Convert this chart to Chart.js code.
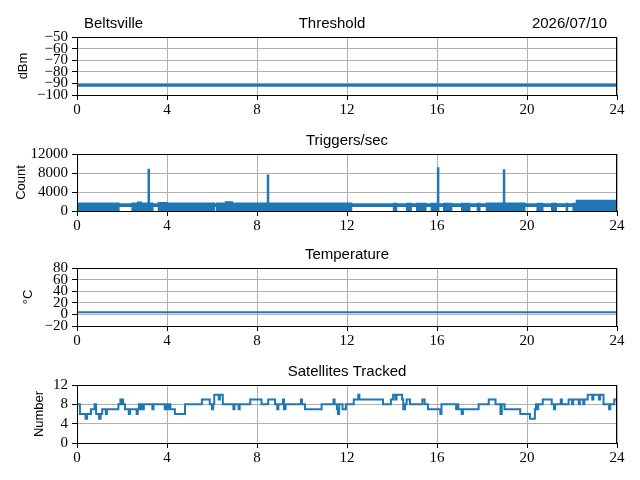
<!DOCTYPE html>
<html lang="en">
<head>
  <meta charset="UTF-8">
  <title>Beltsville station status</title>
  <script src="https://cdn.jsdelivr.net/npm/chart.js"></script>
  <style>
    body { margin: 0; background: white; }
    #fig { position: relative; width: 640px; height: 480px; background: white; }
    #fig canvas { position: absolute; left: 0; }
  </style>
</head>
<body>
  <div id="fig">
    <canvas id="c-threshold"></canvas>
    <canvas id="c-triggers"></canvas>
    <canvas id="c-temp"></canvas>
    <canvas id="c-sats"></canvas>
  </div>

  <script>
    // --- data (hours of the day, UTC) ---
    const hourTicks = [0, 4, 8, 12, 16, 20, 24];

    const threshTicks = [-100, -90, -80, -70, -60, -50];
    const threshHours = [0, 24];
    const threshDbm = [-91.5, -91.5];

    const trigTicks = [0, 4000, 8000, 12000];
    // noisy band: each segment starts at trigHours[i], spans trigLow..trigHigh
    const trigHours = [0, 1.86, 2.45, 2.7, 2.85, 3.37, 3.62, 4.0, 6.1, 6.2, 6.6, 6.9,
      12.2, 14.07, 14.2, 14.65, 14.85, 15.1, 15.5, 15.75, 16.06, 16.3, 16.65, 17.1,
      17.45, 17.8, 17.9, 18.2, 19.9, 20.45, 20.7, 21.1, 21.3, 21.75, 21.8, 22.05, 22.2];
    const trigLow = [0, 1000, 0, 0, 0, 1000, 0, 0, 1000, 0, 0, 0,
      1000, 0, 1000, 0, 1000, 0, 1000, 0, 1000, 0, 1000, 0,
      1000, 0, 1000, 0, 1000, 0, 1000, 0, 1000, 0, 1000, 0, 0];
    const trigHigh = [1650, 1500, 1650, 1850, 1650, 1500, 1750, 1650, 1500, 1650, 1900, 1650,
      1500, 1600, 1500, 1600, 1500, 1600, 1500, 1600, 1500, 1600, 1500, 1600,
      1500, 1600, 1500, 1650, 1500, 1600, 1500, 1600, 1500, 1600, 1500, 1600, 2200];
    const spikeHours = [3.19, 8.49, 16.05, 18.98];
    const spikePeaks = [8900, 7700, 9200, 8800];

    const tempTicks = [-20, 0, 20, 40, 60, 80];
    const tempHours = [0, 24];
    const tempC = [3.5, 3.5];

    const satTicks = [0, 4, 8, 12];
    // step series: value satCount[i] holds from satHours[i] to the next entry
    const satHours = [0, 0.13, 0.38, 0.45, 0.62, 0.78, 0.85, 0.98, 1.05, 1.12, 1.28, 1.33,
      1.84, 1.93, 1.97, 2.0, 2.05, 2.13, 2.3, 2.36, 2.65, 2.7, 2.75, 2.8, 2.85, 2.92, 2.97,
      3.35, 3.4, 3.9, 3.95, 4.02, 4.07, 4.15, 4.35, 4.8, 5.55, 5.9, 6.0, 6.05, 6.1, 6.3, 6.35,
      6.48, 6.95, 7.0, 7.18, 7.23, 7.7, 8.2, 8.5, 8.8, 8.9, 8.95, 9.15, 9.2, 9.27, 9.95, 10.0,
      10.13, 10.87, 11.4, 11.45, 11.55, 11.6, 11.65, 11.8, 11.95, 12.13, 12.3, 12.5, 12.55,
      13.6, 13.95, 14.05, 14.15, 14.2, 14.45, 14.5, 14.58, 14.65, 14.8, 15.35, 15.45, 15.6,
      16.15, 16.2, 16.85, 16.9, 16.95, 17.1, 17.15, 17.85, 18.3, 18.6, 18.82, 18.88, 19.0,
      19.7, 20.13, 20.35, 20.4, 20.45, 20.5, 20.7, 21.1, 21.2, 21.25, 21.5, 21.55, 21.85,
      22.0, 22.05, 22.3, 22.35, 22.5, 22.55, 22.7, 22.9, 22.95, 23.2, 23.25, 23.4, 23.65,
      23.7, 23.88];
    const satCount = [8, 6, 5, 6, 7, 8, 6, 5, 6, 7, 6, 7,
      8, 9, 8, 9, 8, 7, 6, 7, 6, 7, 8, 7, 8, 7, 8,
      7, 8, 7, 8, 7, 8, 7, 6, 8, 9, 8, 7, 8, 10, 9, 10,
      8, 7, 8, 7, 8, 9, 8, 9, 8, 7, 8, 9, 7, 8, 9, 8,
      7, 8, 9, 8, 7, 6, 8, 7, 8, 8, 9, 10, 9,
      8, 9, 10, 9, 10, 9, 7, 8, 9, 8, 9, 8, 7,
      6, 8, 7, 8, 7, 6, 7, 8, 9, 8, 6, 8, 7,
      6, 5, 7, 8, 7, 8, 9, 8, 7, 8, 9, 8, 9,
      8, 9, 8, 9, 8, 9, 10, 9, 10, 9, 10, 8, 7,
      8, 9];

    const BLUE = '#1f77b4';
    const tickFont = { family: 'Liberation Serif', size: 15 };
    const labelFont = { family: 'Liberation Sans', size: 13 };

    function stepPoints(starts, values, end) {
      const pts = starts.map((h, i) => ({ x: h, y: values[i] }));
      pts.push({ x: end, y: values[values.length - 1] });
      return pts;
    }

    function fmt(v) {
      return v < 0 ? '\u2212' + Math.abs(v) : String(v);
    }

    // box around the axes plus the titles over it
    const panelDecor = {
      id: 'panelDecor',
      afterDatasetsDraw(chart, args, opts) {
        const { ctx, chartArea: a } = chart;
        ctx.save();
        ctx.strokeStyle = '#000';
        ctx.lineWidth = 1;
        ctx.strokeRect(Math.round(a.left) + 0.5, Math.round(a.top) + 0.5,
          Math.round(a.width) - 1, Math.round(a.height));
        ctx.fillStyle = '#000';
        ctx.font = '15px "Liberation Sans"';
        ctx.textBaseline = 'alphabetic';
        const y = a.top - 9;
        if (opts.center) {
          ctx.textAlign = 'center';
          ctx.fillText(opts.center, opts.centerX || (a.left + a.right) / 2, y);
        }
        if (opts.left) {
          ctx.textAlign = 'left';
          ctx.fillText(opts.left, a.left + 7, y);
        }
        if (opts.right) {
          ctx.textAlign = 'right';
          ctx.fillText(opts.right, a.right - 10, y);
        }
        ctx.restore();
      }
    };

    function makePanel(id, canvasTop, plotHeight, yMin, yMax, yTicks, yLabel, labelPad, decor, datasets) {
      const canvas = document.getElementById(id);
      canvas.width = 640;
      canvas.height = plotHeight + 37 + 33;
      canvas.style.top = canvasTop + 'px';
      return new Chart(canvas, {
        type: 'line',
        data: { datasets },
        options: {
          responsive: false,
          animation: false,
          layout: { padding: { top: 37, right: 23, left: 0, bottom: 0 } },
          elements: { point: { radius: 0 }, line: { tension: 0 } },
          plugins: {
            legend: { display: false },
            tooltip: { enabled: false },
            panelDecor: decor
          },
          scales: {
            x: {
              type: 'linear', min: 0, max: 24,
              afterFit: s => { s.height = 33; },
              afterBuildTicks: s => { s.ticks = hourTicks.map(v => ({ value: v })); },
              grid: { color: '#b0b0b0', tickColor: '#000', tickLength: 5 },
              border: { display: false },
              ticks: { font: tickFont, color: '#000', padding: 1, maxRotation: 0, autoSkip: false, callback: fmt }
            },
            y: {
              type: 'linear', min: yMin, max: yMax,
              afterFit: s => { s.width = 77; },
              afterBuildTicks: s => { s.ticks = yTicks.map(v => ({ value: v })); },
              grid: { color: '#b0b0b0', tickColor: '#000', tickLength: 5 },
              border: { display: false },
              ticks: { font: tickFont, color: '#000', padding: 4, autoSkip: false, callback: fmt },
              title: { display: true, text: yLabel, font: labelFont, color: '#000', padding: { top: labelPad, bottom: 0 } }
            }
          }
        },
        plugins: [panelDecor]
      });
    }

    // Threshold
    makePanel('c-threshold', 0, 58, -100, -50, threshTicks, 'dBm', 16,
      { center: 'Threshold', centerX: 332, left: 'Beltsville', right: '2026/07/10' },
      [{
        data: stepPoints(threshHours.slice(0, -1), threshDbm, 24),
        borderColor: BLUE, borderWidth: 3, stepped: true
      }]);

    // Triggers/sec
    const spikeData = [];
    spikeHours.forEach((h, i) => {
      spikeData.push({ x: h, y: 0 }, { x: h, y: spikePeaks[i] }, { x: h, y: 0 }, { x: h, y: null });
    });
    makePanel('c-triggers', 117, 57, 0, 12000, trigTicks, 'Count', 14,
      { center: 'Triggers/sec' },
      [
        {
          data: stepPoints(trigHours, trigLow, 24),
          borderColor: BLUE, borderWidth: 1.5, stepped: true, fill: false
        },
        {
          data: stepPoints(trigHours, trigHigh, 24),
          borderColor: BLUE, borderWidth: 1.5, stepped: true,
          fill: '-1', backgroundColor: BLUE
        },
        {
          data: spikeData,
          borderColor: BLUE, borderWidth: 2.5, spanGaps: false
        }
      ]);

    // Temperature
    makePanel('c-temp', 231, 58, -20, 80, tempTicks, '\u00b0C', 21,
      { center: 'Temperature' },
      [{
        data: stepPoints(tempHours.slice(0, -1), tempC, 24),
        borderColor: BLUE, borderWidth: 2, stepped: true
      }]);

    // Satellites Tracked
    makePanel('c-sats', 348, 58, 0, 12, satTicks, 'Number', 32,
      { center: 'Satellites Tracked' },
      [{
        data: stepPoints(satHours, satCount, 24),
        borderColor: BLUE, borderWidth: 2, stepped: true
      }]);
  </script>
</body>
</html>
